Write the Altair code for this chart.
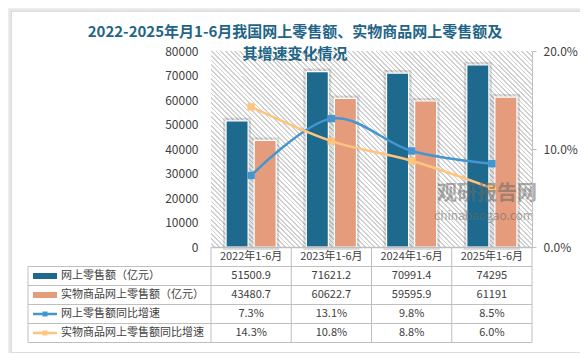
import altair as alt
import pandas as pd

# ---------------- data ----------------
cats = ["2022年1-6月", "2023年1-6月", "2024年1-6月", "2025年1-6月"]
online = [51500.9, 71621.2, 70991.4, 74295]
physical = [43480.7, 60622.7, 59595.9, 61191]
online_g = [7.3, 13.1, 9.8, 8.5]
physical_g = [14.3, 10.8, 8.8, 6.0]
series = ["网上零售额（亿元）", "实物商品网上零售额（亿元）", "网上零售额同比增速", "实物商品网上零售额同比增速"]
title1 = "2022-2025年月1-6月我国网上零售额、实物商品网上零售额及"
title2 = "其增速变化情况"

# ---------------- style / layout ----------------
FONT = "Noto Sans CJK SC"
BLUE, ORANGE, LBLUE, LORANGE = "#1D6A8E", "#E59C7D", "#4595D0", "#FFC47D"
GRID, TXT, TITLE = "#BFBFBF", "#404040", "#1F6587"
W, H = 321, 196
ROW_Y = [225, 244, 263, 282]
ROW_LINES = [215.5, 234.5, 253.5, 272.5, 291.5]
TABLE_LEFT = -183
SYM_X0, SYM_X1 = -178, -154
LABEL_X = -150

bar_df = pd.DataFrame({"cat": cats * 2,
                       "series": [series[0]] * 4 + [series[1]] * 4,
                       "value": online + physical})
line_df = pd.DataFrame({"cat": cats * 2,
                        "series": [series[2]] * 4 + [series[3]] * 4,
                        "pct": online_g + physical_g})

row_texts = [[f"{v:g}" for v in online], [f"{v:g}" for v in physical],
             [f"{v:.1f}%" for v in online_g], [f"{v:.1f}%" for v in physical_g]]

one = pd.DataFrame({"a": [1]})
color_scale = alt.Scale(domain=series, range=[BLUE, ORANGE, LBLUE, LORANGE])
xscale = alt.Scale(domain=cats, paddingInner=0, paddingOuter=0)
xaxis = alt.Axis(title=None, labelAngle=0, domain=True, domainColor=GRID, domainWidth=1.5, ticks=False,
                 labelPadding=3, labelFontSize=11, labelColor=TXT, labelFont=FONT, grid=False, zindex=2)


def X(**kw):
    return alt.X("cat:N", sort=cats, scale=xscale, axis=xaxis, **kw)


layers = []

# card with soft shadow
for off, col in [(9, "#fbfbfb"), (7, "#f5f5f5"), (5, "#eeeeee"), (3, "#e6e6e6"), (1, "#dcdcdc"), (0, "white")]:
    layers.append(alt.Chart(one).mark_rect(fill=col).encode(
        x=alt.value(-199 - off), x2=alt.value(369 + off),
        y=alt.value(-39 - off), y2=alt.value(301 + off)))

# hatched plot background
N = 110
stops = []
for k in range(N):
    stops += [alt.GradientStop(offset=k / N, color="white"),
              alt.GradientStop(offset=(k + 0.62) / N, color="white"),
              alt.GradientStop(offset=(k + 0.62) / N, color="#d0d0d0"),
              alt.GradientStop(offset=(k + 1) / N, color="#d0d0d0")]
hatch = alt.LinearGradient(gradient="linear", stops=stops, x1=0, y1=1, x2=1.173, y2=0.283)
layers.append(alt.Chart(one).mark_rect(fill=hatch).encode(
    x=alt.value(0), x2=alt.value(W), y=alt.value(0), y2=alt.value(H)))

# bars
ybar = alt.Y("value:Q", scale=alt.Scale(domain=[0, 80000]),
             axis=alt.Axis(title=None, values=list(range(0, 80001, 10000)), format="d",
                           domain=False, ticks=False, labelPadding=13, grid=False,
                           labelFontSize=12, labelColor=TXT, labelFont=FONT, zindex=2))
xoff = alt.XOffset("series:N", sort=series[:2],
                   scale=alt.Scale(domain=series[:2], paddingInner=0.214, paddingOuter=0.536))
bar_shadow = alt.Chart(bar_df).mark_bar(stroke="black", strokeOpacity=0.13, strokeWidth=6, fillOpacity=0).encode(
    x=X(), xOffset=xoff, y=ybar)
bars = alt.Chart(bar_df).mark_bar(stroke="white", strokeWidth=1.2).encode(
    x=X(), xOffset=xoff, y=ybar,
    color=alt.Color("series:N", scale=color_scale, legend=None))
bar_layer = alt.layer(bar_shadow, bars)

# lines
right_axis = alt.Axis(orient="right", title=None, values=[0, 10, 20],
                      labelExpr="format(datum.value, '.1f') + '%'",
                      domain=True, domainColor=GRID, ticks=True, tickColor=GRID, tickSize=4,
                      labelPadding=7, grid=False, labelFontSize=12, labelColor=TXT, labelFont=FONT,
                      zindex=2)
yl = alt.Y("pct:Q", scale=alt.Scale(domain=[0, 20]), axis=right_axis)
line_layers = []
for s in [series[2], series[3]]:
    d = line_df[line_df.series == s]
    line_layers.append(alt.Chart(d).mark_line(interpolate="cardinal", strokeWidth=2.5).encode(
        x=X(), y=yl, color=alt.Color("series:N", scale=color_scale, legend=None)))
    line_layers.append(alt.Chart(d).mark_point(shape="square", filled=True, size=55, opacity=1).encode(
        x=X(), y=yl, color=alt.Color("series:N", scale=color_scale, legend=None)))
lines = alt.layer(*line_layers)

# watermark
wm = [alt.Chart(one).mark_text(text="观研报告网", font=FONT, fontSize=20, fontWeight="bold",
                               color="#6a6a6a", opacity=0.55).encode(x=alt.value(276), y=alt.value(143)),
      alt.Chart(one).mark_text(text="chinabaogao.com", font=FONT, fontSize=12,
                               color="#6a6a6a", opacity=0.55).encode(x=alt.value(273), y=alt.value(165))]

# table grid
rules = []
hl = pd.DataFrame({"py": ROW_LINES})
rules.append(alt.Chart(hl).mark_rule(color=GRID, strokeWidth=1).encode(
    x=alt.value(TABLE_LEFT), x2=alt.value(W), y=alt.Y("py:Q", scale=None)))
cat_df = pd.DataFrame({"cat": cats})
rules.append(alt.Chart(cat_df).mark_rule(color=GRID, strokeWidth=1).encode(
    x=X(bandPosition=0), y=alt.value(H), y2=alt.value(ROW_LINES[-1])))
rules.append(alt.Chart(one).mark_rule(color=GRID, strokeWidth=1).encode(
    x=alt.value(W), y=alt.value(H), y2=alt.value(ROW_LINES[-1])))
rules.append(alt.Chart(one).mark_rule(color=GRID, strokeWidth=1).encode(
    x=alt.value(TABLE_LEFT), y=alt.value(ROW_LINES[0]), y2=alt.value(ROW_LINES[-1])))

# table texts
table = []
for i, yc in enumerate(ROW_Y):
    tdf = pd.DataFrame({"cat": cats, "txt": row_texts[i]})
    table.append(alt.Chart(tdf).mark_text(font=FONT, fontSize=11, color=TXT, baseline="middle").encode(
        x=X(), y=alt.value(yc), text="txt:N"))
    table.append(alt.Chart(one).mark_text(text=series[i], font=FONT, fontSize=11, color=TXT,
                                          align="left", baseline="middle").encode(
        x=alt.value(LABEL_X), y=alt.value(yc)))
    col = [BLUE, ORANGE, LBLUE, LORANGE][i]
    if i < 2:
        table.append(alt.Chart(one).mark_rect(fill=col).encode(
            x=alt.value(SYM_X0), x2=alt.value(SYM_X1), y=alt.value(yc - 3), y2=alt.value(yc + 3)))
    else:
        table.append(alt.Chart(one).mark_rule(color=col, strokeWidth=2.5).encode(
            x=alt.value(SYM_X0), x2=alt.value(SYM_X1), y=alt.value(yc)))
        table.append(alt.Chart(one).mark_point(shape="square", filled=True, size=25, color=col, opacity=1).encode(
            x=alt.value((SYM_X0 + SYM_X1) / 2), y=alt.value(yc)))

titles = [alt.Chart(one).mark_text(text=title1, font=FONT, fontSize=15, fontWeight="bold", color=TITLE,
                                   baseline="middle").encode(x=alt.value(84), y=alt.value(-19.5)),
          alt.Chart(one).mark_text(text=title2, font=FONT, fontSize=15, fontWeight="bold", color=TITLE,
                                   baseline="middle").encode(x=alt.value(84), y=alt.value(2.5))]

chart = alt.layer(*layers, bar_layer, lines, *wm, *rules, *table, *titles).resolve_scale(
    y="independent"
).properties(
    width=W, height=H,
    autosize=alt.AutoSizeParams(type="none"),
    padding={"left": 203, "top": 43, "right": 48, "bottom": 106},
    background="white",
).configure_view(stroke=None)

chart.save("out.html", embed_options={"renderer": "svg", "actions": False})
